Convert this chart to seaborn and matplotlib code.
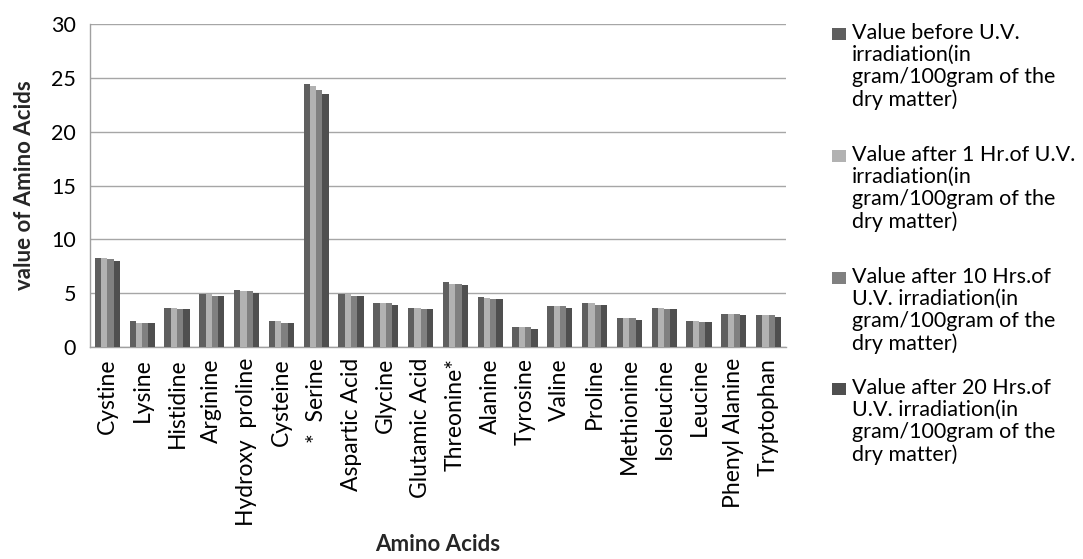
import matplotlib
matplotlib.use("Agg")
import matplotlib.pyplot as plt
import seaborn as sns
import pandas as pd
import numpy as np
from matplotlib.patches import Rectangle

amino_acids = ["Cystine", "Lysine", "Histidine", "Arginine", "Hydroxy  proline",
               "Cysteine", "*  Serine", "Aspartic Acid", "Glycine", "Glutamic Acid",
               "Threonine*", "Alanine", "Tyrosine", "Valine", "Proline",
               "Methionine", "Isoleucine", "Leucine", "Phenyl Alanine", "Tryptophan"]

before_uv = [8.3, 2.42, 3.66, 4.96, 5.33, 2.42, 24.45, 4.96, 4.09, 3.66,
             6.04, 4.64, 1.86, 3.81, 4.09, 2.69, 3.65, 2.41, 3.10, 2.97]
after_1hr = [8.3, 2.26, 3.66, 4.96, 5.2, 2.42, 24.26, 4.96, 4.09, 3.66,
             5.88, 4.58, 1.86, 3.81, 4.09, 2.69, 3.65, 2.41, 3.10, 2.97]
after_10hr = [8.15, 2.26, 3.5, 4.77, 5.2, 2.26, 23.9, 4.77, 4.09, 3.5,
              5.88, 4.49, 1.86, 3.81, 3.93, 2.69, 3.53, 2.29, 3.10, 2.97]
after_20hr = [8.0, 2.26, 3.5, 4.77, 5.02, 2.26, 23.46, 4.77, 3.94, 3.5,
              5.73, 4.49, 1.70, 3.65, 3.93, 2.54, 3.53, 2.29, 2.97, 2.82]

series_labels = [
    "Value before U.V.\nirradiation(in\ngram/100gram of the\ndry matter)",
    "Value after 1 Hr.of U.V.\nirradiation(in\ngram/100gram of the\ndry matter)",
    "Value after 10 Hrs.of\nU.V. irradiation(in\ngram/100gram of the\ndry matter)",
    "Value after 20 Hrs.of\nU.V. irradiation(in\ngram/100gram of the\ndry matter)",
]
colors = ["#5f5f5f", "#b2b2b2", "#808080", "#4f4f4f"]

rows = []
for lab, vals in zip(series_labels, [before_uv, after_1hr, after_10hr, after_20hr]):
    for aa, v in zip(amino_acids, vals):
        rows.append({"Amino Acids": aa, "value": v, "series": lab})
df = pd.DataFrame(rows)

sns.set_theme(style="white")
plt.rcParams["font.family"] = ["Lato", "DejaVu Sans"]

W, H = 1083, 559
fig = plt.figure(figsize=(W / 100, H / 100), dpi=100)
ax = fig.add_axes([90 / W, 1 - 347 / H, (786 - 90) / W, (347 - 24) / H])

sns.barplot(data=df, x="Amino Acids", y="value", hue="series",
            palette=colors, width=0.72, gap=0, saturation=1,
            errorbar=None, ax=ax, legend=False, order=amino_acids,
            hue_order=series_labels, zorder=3, linewidth=0)

ax.set_xlim(-0.5, len(amino_acids) - 0.5)
ax.set_ylim(0, 30)
ax.set_yticks([0, 5, 10, 15, 20, 25, 30])
ax.yaxis.grid(True, color="#a6a6a6", linewidth=1.0, zorder=0)
ax.set_axisbelow(True)
for s in ["top", "right"]:
    ax.spines[s].set_visible(False)
for s in ["left", "bottom"]:
    ax.spines[s].set_color("#a0a0a0")
    ax.spines[s].set_linewidth(1.0)

ax.set_xticks(range(len(amino_acids)))
ax.set_xticklabels(amino_acids, rotation=90, fontsize=16.5)
ax.set_xticks(np.arange(-0.5, len(amino_acids)), minor=True)
ax.tick_params(axis="x", which="major", length=0, pad=8, colors="black")
ax.tick_params(axis="x", which="minor", length=5, color="#a0a0a0", width=1, direction="out")
ax.tick_params(axis="y", length=6, color="#a0a0a0", width=1, direction="out",
               labelsize=15.5, pad=4, labelcolor="black")

ax.set_xlabel("Amino Acids", fontsize=16, fontweight="bold")
ax.xaxis.set_label_coords(0.5, -0.58)
ax.set_ylabel("value of Amino Acids", fontsize=16, fontweight="bold")
ax.yaxis.set_label_coords(-0.079, 0.5)

# legend, drawn like the original: square aligned with the first text line
entry_tops = [28, 150, 272, 383]
for top, lab, col in zip(entry_tops, series_labels, colors):
    fig.patches.append(Rectangle((832 / W, 1 - (top + 12) / H), 14 / W, 12 / H,
                                 transform=fig.transFigure, facecolor=col,
                                 edgecolor="none", figure=fig))
    fig.text(852 / W, 1 - (top - 5) / H, lab, fontsize=15.5, va="top", ha="left",
             linespacing=1.13, color="black")

fig.savefig("out.png", dpi=100)
